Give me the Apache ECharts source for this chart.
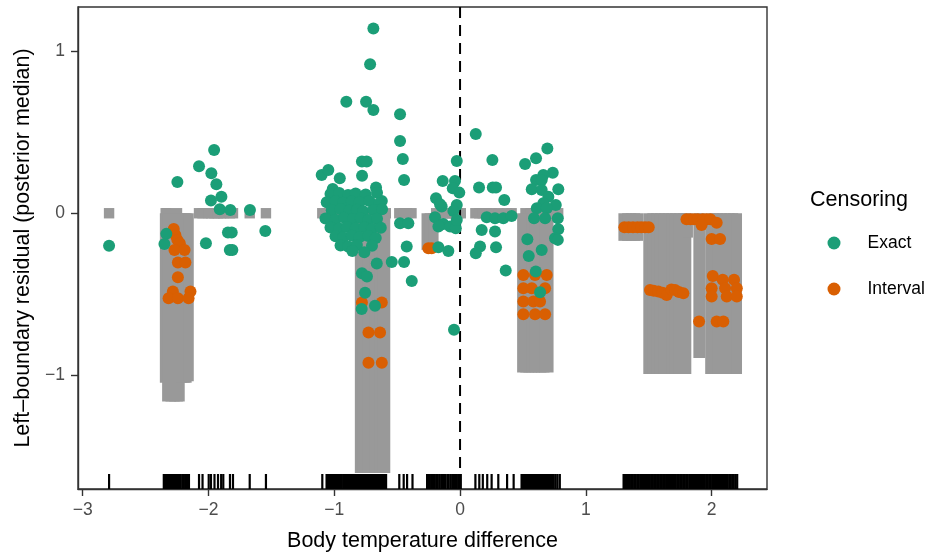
<!DOCTYPE html>
<html>
<head>
<meta charset="utf-8">
<script src="https://cdn.jsdelivr.net/npm/echarts@6/dist/echarts.min.js"></script>
<style>html,body{margin:0;padding:0;background:#fff;}#c{width:932px;height:552px;}</style>
</head>
<body>
<div id="c"></div>
<script>
// ---------- data ----------
const xTicks = [-3, -2, -1, 0, 1, 2];
const yTicks = [-1, 0, 1];
const xRange = [-3.037, 2.44];
const yRange = [-1.698, 1.27];
const vlineX = [0];

// gray marks: exact observations (zero-length residual interval at 0)
const exactX = [-2.79, -2.34, -2.33, -2.25,
  -2.075, -2.047, -1.998, -1.98, -1.952, -1.924, -1.899, -1.882, -1.829, -1.805, -1.672, -1.543,
  -1.095, -1.06, -1.03, -1.0, -0.97, -0.94, -0.91, -0.88, -0.85, -0.82, -0.79, -0.76, -0.73, -0.70, -0.67, -0.64, -0.61, -0.59, -0.483, -0.448, -0.421, -0.386,
  -0.19, -0.165, -0.14, -0.115, -0.09, -0.062, -0.04, -0.015, 0.006,
  0.122, 0.153, 0.181, 0.216, 0.251, 0.304, 0.374, 0.41,
  0.52, 0.56, 0.60, 0.64, 0.68, 0.72, 0.75, 0.78];
// gray marks: interval observations (from 0 down to lower residual)
const intervalX = [-2.345, -2.327, -2.30, -2.27, -2.245, -2.23, -2.21, -2.19, -2.175, -2.158,
  -0.795, -0.775, -0.755, -0.735, -0.715, -0.695, -0.675, -0.655, -0.635, -0.615, -0.596,
  -0.265, -0.24, -0.212,
  0.495, 0.52, 0.545, 0.57, 0.595, 0.62, 0.645, 0.67, 0.702,
  1.30, 1.33, 1.36, 1.39, 1.415,
  1.498, 1.53, 1.56, 1.59, 1.62, 1.65, 1.68, 1.71, 1.74, 1.77, 1.797, 1.81,
  1.896, 1.908,
  1.99, 2.02, 2.05, 2.08, 2.11, 2.14, 2.17, 2.20];
const intervalLower = [-1.044, -1.159, -1.159, -1.159, -1.159, -1.159, -1.044, -1.044, -1.044, -1.035,
  -1.6, -1.6, -1.6, -1.6, -1.6, -1.6, -1.6, -1.6, -1.6, -1.6, -1.6,
  -0.226, -0.226, -0.226,
  -0.98, -0.98, -0.98, -0.98, -0.98, -0.98, -0.98, -0.98, -0.98,
  -0.17, -0.17, -0.17, -0.17, -0.17,
  -0.99, -0.99, -0.99, -0.99, -0.99, -0.99, -0.99, -0.99, -0.99, -0.99, -0.99, -0.15,
  -0.892, -0.892,
  -0.99, -0.99, -0.99, -0.99, -0.99, -0.99, -0.99, -0.99];

// rug positions (observed body temperature differences)
const rugX = [-2.79,
  -2.355, -2.346, -2.336, -2.325, -2.316, -2.305, -2.292, -2.281, -2.27, -2.262, -2.25, -2.241, -2.229, -2.22, -2.206, -2.196, -2.185, -2.176, -2.165, -2.155,
  -2.075, -2.047, -1.998, -1.98, -1.952, -1.924, -1.899, -1.882, -1.829, -1.805, -1.672, -1.543,
  -1.095, -1.061, -1.049, -1.04, -1.029, -1.021, -1.009, -0.998, -0.99, -0.979, -0.969, -0.96, -0.948, -0.941, -0.929, -0.92, -0.91, -0.899, -0.889, -0.879, -0.871, -0.86, -0.85, -0.841, -0.829, -0.82, -0.81, -0.8, -0.789, -0.78, -0.771, -0.76, -0.75, -0.739, -0.73, -0.721, -0.71, -0.699, -0.69, -0.679, -0.669, -0.66, -0.65, -0.64, -0.629, -0.62, -0.61, -0.6, -0.588,
  -0.483, -0.448, -0.421, -0.378,
  -0.262, -0.25, -0.24, -0.228, -0.215, -0.205, -0.19, -0.178, -0.165, -0.15, -0.138, -0.128, -0.115, -0.1, -0.09, -0.075, -0.062, -0.05, -0.04, -0.028, -0.015, -0.005, 0.006,
  0.122, 0.153, 0.181, 0.216, 0.251, 0.304, 0.374, 0.426,
  0.489, 0.5, 0.51, 0.52, 0.531, 0.54, 0.55, 0.561, 0.57, 0.58, 0.59, 0.6, 0.611, 0.62, 0.63, 0.64, 0.651, 0.66, 0.67, 0.68, 0.69, 0.7, 0.715, 0.73, 0.745, 0.76, 0.775, 0.793,
  1.30, 1.312, 1.325, 1.336, 1.348, 1.36, 1.373, 1.385, 1.397, 1.41, 1.421, 1.434, 1.446, 1.458, 1.47, 1.482, 1.494, 1.506, 1.519, 1.531, 1.543, 1.555, 1.567, 1.58, 1.592, 1.604, 1.616, 1.628, 1.64, 1.653, 1.665, 1.677, 1.689, 1.701, 1.713, 1.726, 1.738, 1.75, 1.762, 1.774, 1.786, 1.798, 1.81, 1.823, 1.835, 1.847, 1.859, 1.871, 1.884, 1.896, 1.908, 1.92, 1.932, 1.945, 1.957, 1.969, 1.981, 1.993, 2.005, 2.018, 2.03, 2.042, 2.054, 2.066, 2.078, 2.091, 2.103, 2.115, 2.127, 2.14, 2.152, 2.164, 2.176, 2.19, 2.203];

// posterior median residuals, exact observations
const exactPts = [
  [-2.79, -0.20], [-2.335, -0.127], [-2.35, -0.189], [-2.247, 0.193],
  [-2.075, 0.29], [-1.977, 0.246], [-1.955, 0.39], [-1.937, 0.178], [-1.897, 0.102], [-1.98, 0.078],
  [-1.91, 0.025], [-1.826, 0.02], [-1.67, 0.02], [-1.548, -0.109], [-1.845, -0.119], [-1.815, -0.119],
  [-1.83, -0.226], [-1.81, -0.226], [-2.02, -0.185],
  [-0.689, 1.138], [-0.715, 0.917], [-0.904, 0.687], [-0.747, 0.687], [-0.689, 0.636],
  [-0.477, 0.609], [-0.477, 0.445], [-0.455, 0.334], [-0.445, 0.205],
  [-0.78, 0.318], [-0.742, 0.318], [-0.779, 0.231], [-1.1, 0.236], [-1.047, 0.266], [-0.956, 0.215],
  [-0.668, 0.158], [-1.012, 0.15], [-0.622, 0.076],
  [-1.03, 0.118], [-0.96, 0.124], [-0.89, 0.112], [-0.83, 0.121], [-0.75, 0.115], [-0.66, 0.126],
  [-1.06, 0.068], [-0.99, 0.074], [-0.93, 0.064], [-0.86, 0.072], [-0.80, 0.066], [-0.72, 0.075], [-0.64, 0.062],
  [-1.02, 0.018], [-0.95, 0.024], [-0.88, 0.015], [-0.82, 0.022], [-0.77, 0.012], [-0.69, 0.02], [-0.62, 0.025],
  [-1.07, -0.032], [-0.99, -0.04], [-0.92, -0.028], [-0.85, -0.036], [-0.79, -0.03], [-0.73, -0.042], [-0.66, -0.034],
  [-1.03, -0.088], [-0.96, -0.094], [-0.90, -0.085], [-0.83, -0.092], [-0.76, -0.087], [-0.70, -0.095], [-0.63, -0.09],
  [-0.99, -0.142], [-0.93, -0.15], [-0.86, -0.138], [-0.80, -0.147], [-0.73, -0.14], [-0.67, -0.152],
  [-0.95, -0.198], [-0.89, -0.205], [-0.82, -0.195], [-0.70, -0.2],
  [-0.856, -0.232], [-0.761, -0.24],
  [-0.477, -0.062], [-0.411, -0.062], [-0.424, -0.205], [-0.543, -0.3], [-0.445, -0.3], [-0.384, -0.417],
  [-0.662, -0.31], [-0.78, -0.37], [-0.74, -0.39], [-0.755, -0.49], [-0.782, -0.59], [-0.676, -0.57],
  [-0.048, -0.718],
  [-0.026, 0.322], [-0.138, 0.199], [-0.04, 0.199], [-0.058, 0.154], [-0.006, 0.127], [-0.191, 0.092],
  [-0.146, 0.041], [-0.026, 0.051], [-0.053, 0.014], [-0.159, 0.055], [-0.199, -0.025], [-0.133, -0.066],
  [-0.079, -0.082], [-0.034, -0.092], [-0.026, -0.041], [-0.172, -0.082], [-0.172, -0.209], [-0.093, -0.232],
  [0.125, 0.488], [0.257, 0.328], [0.151, 0.158], [0.26, 0.158], [0.286, 0.158], [0.352, 0.082],
  [0.212, -0.025], [0.278, -0.031], [0.344, -0.031], [0.41, -0.017], [0.172, -0.103], [0.278, -0.113],
  [0.159, -0.205], [0.125, -0.246], [0.286, -0.209], [0.363, -0.353],
  [0.694, 0.398], [0.517, 0.303], [0.604, 0.338], [0.737, 0.25], [0.662, 0.236], [0.604, 0.205], [0.649, 0.205],
  [0.57, 0.148], [0.781, 0.148], [0.649, 0.143], [0.702, 0.102], [0.662, 0.062], [0.761, 0.051], [0.61, 0.031], [0.689, 0.031],
  [0.588, -0.031], [0.676, -0.031], [0.777, -0.031], [0.781, -0.098], [0.755, -0.154], [0.777, -0.164],
  [0.535, -0.16], [0.546, -0.263], [0.649, -0.226], [0.602, -0.359], [0.636, -0.486]
];

// posterior median residuals, interval-censored observations
const intervalPts = [
  [-2.276, -0.097], [-2.263, -0.134], [-2.247, -0.164], [-2.228, -0.185], [-2.27, -0.226], [-2.19, -0.226],
  [-2.243, -0.304], [-2.183, -0.304], [-2.243, -0.394], [-2.283, -0.482], [-2.143, -0.482],
  [-2.317, -0.523], [-2.243, -0.523], [-2.158, -0.523],
  [-0.755, 0.092], [-0.78, -0.55], [-0.622, -0.55], [-0.728, -0.735], [-0.636, -0.735], [-0.728, -0.92], [-0.622, -0.92],
  [-0.252, -0.215], [-0.225, -0.215],
  [0.503, -0.38], [0.596, -0.38], [0.689, -0.38], [0.503, -0.462], [0.57, -0.462], [0.676, -0.462],
  [0.503, -0.544], [0.583, -0.544], [0.636, -0.544], [0.503, -0.622], [0.596, -0.622], [0.676, -0.622],
  [1.306, -0.086], [1.34, -0.086], [1.375, -0.086], [1.41, -0.086], [1.44, -0.086], [1.47, -0.086], [1.50, -0.086],
  [1.80, -0.037], [1.83, -0.037], [1.86, -0.037], [1.89, -0.037], [1.93, -0.037], [1.96, -0.037], [1.99, -0.037],
  [1.92, -0.072], [2.04, -0.058], [2.0, -0.158], [2.067, -0.158],
  [1.51, -0.472], [1.54, -0.478], [1.576, -0.482], [1.61, -0.49], [1.643, -0.503], [1.68, -0.47], [1.709, -0.472], [1.74, -0.485], [1.775, -0.492],
  [2.009, -0.386], [2.088, -0.41], [2.178, -0.41], [2.0, -0.462], [2.107, -0.462], [2.2, -0.462],
  [2.0, -0.513], [2.12, -0.513], [2.2, -0.513], [1.9, -0.667], [2.04, -0.667], [2.093, -0.667]
];

// ---------- chart ----------
const FONT = '"Liberation Sans", Arial, Helvetica, sans-serif';
const minus = v => String(v).replace('-', '\u2212');
const chart = echarts.init(document.getElementById('c'), null, {renderer: 'canvas'});

const grayData = exactX.map(x => [x, 0]).concat(intervalX.map((x, i) => [x, intervalLower[i]]));

chart.setOption({
  animation: false,
  backgroundColor: '#ffffff',
  grid: {left: 78, top: 7, right: 165, bottom: 63, show: true, borderColor: '#333333', borderWidth: 1.4, containLabel: false, outerBoundsMode: 'none'},
  xAxis: {
    type: 'value', min: xRange[0], max: xRange[1],
    name: 'Body temperature difference', nameLocation: 'middle', nameGap: 41,
    nameTextStyle: {fontFamily: FONT, fontSize: 21.5, color: '#000'},
    axisLine: {onZero: false, lineStyle: {color: '#333333', width: 1.4}},
    axisTick: {show: true, length: 7, customValues: xTicks, lineStyle: {color: '#333333', width: 1.4}},
    axisLabel: {customValues: xTicks, formatter: minus, margin: 12, fontFamily: FONT, fontSize: 17.5, color: '#4d4d4d'},
    splitLine: {show: false}
  },
  yAxis: {
    type: 'value', min: yRange[0], max: yRange[1],
    name: 'Left\u2013boundary residual (posterior median)', nameLocation: 'middle', nameGap: 44,
    nameTextStyle: {fontFamily: FONT, fontSize: 21.5, color: '#000'},
    axisLine: {show: true, onZero: false, lineStyle: {color: '#333333', width: 1.4}},
    axisTick: {show: true, length: 7, customValues: yTicks, lineStyle: {color: '#333333', width: 1.4}},
    axisLabel: {customValues: yTicks, formatter: minus, margin: 13, fontFamily: FONT, fontSize: 17.5, color: '#4d4d4d'},
    splitLine: {show: false}
  },
  legend: {
    orient: 'vertical', left: 827.5, top: 234, padding: 0, itemWidth: 13, itemHeight: 13, itemGap: 28,
    icon: 'circle', data: ['Exact', 'Interval'],
    formatter: '{a|{name}}',
    textStyle: {fontFamily: FONT, fontSize: 17.5, color: '#000',
      rich: {a: {fontFamily: FONT, fontSize: 17.5, color: '#000', padding: [0, 0, 0, 22]}}}
  },
  graphic: [{
    type: 'text', left: 810, top: 189,
    style: {text: 'Censoring', fontFamily: FONT, fontSize: 21.5, fill: '#000'}
  }],
  series: [
    {
      type: 'custom', name: 'ranges', z: 1, silent: true, clip: true,
      data: grayData, encode: {x: 0, y: 1},
      renderItem(params, api) {
        const x = api.value(0), lo = api.value(1);
        const p0 = api.coord([x, 0]);
        const p1 = api.coord([x, lo]);
        const w = 10.4;
        const shape = lo === 0
          ? {x: p0[0] - w / 2, y: p0[1] - w / 2, width: w, height: w}
          : {x: p0[0] - w / 2, y: p0[1], width: w, height: p1[1] - p0[1]};
        return {type: 'rect', shape, style: {fill: '#999999'}};
      }
    },
    {
      type: 'custom', name: 'vline', z: 2, silent: true,
      data: vlineX.map(v => [v, 0]), encode: {x: 0, y: 1},
      renderItem(params, api) {
        const cs = params.coordSys;
        const px = api.coord([api.value(0), 0])[0];
        return {type: 'line', shape: {x1: px, y1: cs.y, x2: px, y2: cs.y + cs.height},
          style: {stroke: '#000', lineWidth: 2, lineDash: [11, 7]}};
      }
    },
    {
      type: 'scatter', name: 'Interval', z: 3, data: intervalPts, symbolSize: 12,
      itemStyle: {color: '#D95F02', opacity: 1}, emphasis: {disabled: true}
    },
    {
      type: 'scatter', name: 'Exact', z: 4, data: exactPts, symbolSize: 12,
      itemStyle: {color: '#1B9E77', opacity: 1}, emphasis: {disabled: true}
    },
    {
      type: 'custom', name: 'rug', z: 5, silent: true,
      data: rugX.map(v => [v, 0]), encode: {x: 0, y: 1},
      renderItem(params, api) {
        const cs = params.coordSys;
        const px = api.coord([api.value(0), 0])[0];
        const b = cs.y + cs.height;
        return {type: 'line', shape: {x1: px, y1: b, x2: px, y2: b - 15},
          style: {stroke: '#000', lineWidth: 2.2}};
      }
    }
  ]
});
</script>
</body>
</html>
